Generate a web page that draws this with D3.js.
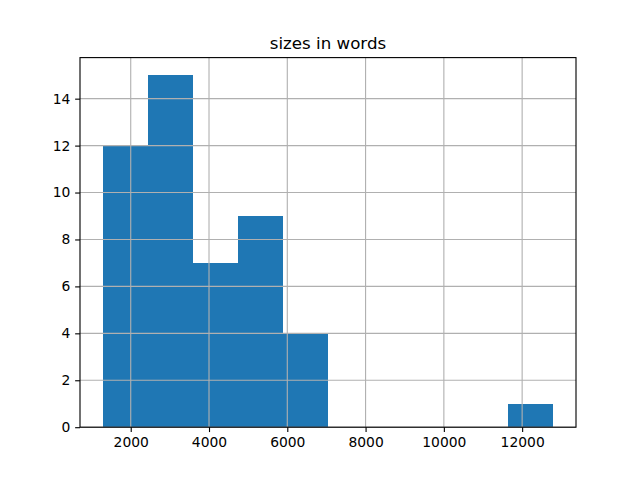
<!DOCTYPE html>
<html>
<head>
<meta charset="utf-8">
<script src="https://cdn.jsdelivr.net/npm/d3@7"></script>
<style>
  body { margin: 0; background: #fff; }
  svg { display: block; font-family: "DejaVu Sans", sans-serif; }
</style>
</head>
<body>
<div id="chart"></div>
<script>
// histogram of document sizes, 10 bins
const title = "sizes in words";
const binMin = 1280;
const binMax = 12800;
const counts = [12, 15, 7, 9, 4, 0, 0, 0, 0, 1];
const xTicks = [2000, 4000, 6000, 8000, 10000, 12000];
const yTicks = [0, 2, 4, 6, 8, 10, 12, 14];

const width = 640, height = 480;
const margin = { top: 57.6, right: 64, bottom: 52.8, left: 80 };
const pt = 100 / 72;

const svg = d3.select("#chart").append("svg")
    .attr("width", width)
    .attr("height", height);

const step = (binMax - binMin) / counts.length;
const bins = counts.map((c, i) => ({ x0: binMin + i * step, x1: binMin + (i + 1) * step, count: c }));

const pad = (binMax - binMin) * 0.05;
const x = d3.scaleLinear()
    .domain([binMin - pad, binMax + pad])
    .range([margin.left, width - margin.right]);
const yMax = d3.max(counts) * 1.05;
const y = d3.scaleLinear()
    .domain([0, yMax])
    .range([height - margin.bottom, margin.top]);

// bars
svg.append("g")
    .attr("shape-rendering", "crispEdges")
    .selectAll("rect")
    .data(bins.filter(d => d.count > 0))
    .join("rect")
    .attr("x", d => x(d.x0))
    .attr("width", d => x(d.x1) - x(d.x0))
    .attr("y", d => y(d.count))
    .attr("height", d => y(0) - y(d.count))
    .attr("fill", "#1f77b4");

// grid over bars
const grid = svg.append("g")
    .attr("stroke", "#b0b0b0")
    .attr("stroke-width", 0.8 * pt);
grid.selectAll(".gx").data(xTicks).join("line")
    .attr("x1", d => x(d)).attr("x2", d => x(d))
    .attr("y1", margin.top).attr("y2", height - margin.bottom);
grid.selectAll(".gy").data(yTicks).join("line")
    .attr("y1", d => y(d)).attr("y2", d => y(d))
    .attr("x1", margin.left).attr("x2", width - margin.right);

const xAxis = svg.append("g")
    .attr("transform", `translate(0,${height - margin.bottom})`)
    .call(d3.axisBottom(x).tickValues(xTicks).tickFormat(d3.format("d"))
        .tickSizeInner(3.5 * pt).tickSizeOuter(0).tickPadding(3.5 * pt));
const yAxis = svg.append("g")
    .attr("transform", `translate(${margin.left},0)`)
    .call(d3.axisLeft(y).tickValues(yTicks)
        .tickSizeInner(3.5 * pt).tickSizeOuter(0).tickPadding(3.5 * pt));

[xAxis, yAxis].forEach(g => {
    g.select(".domain").remove();
    g.selectAll("line").attr("stroke", "#000").attr("stroke-width", 0.8 * pt);
    g.selectAll("text")
        .attr("fill", "#000")
        .style("font-family", "DejaVu Sans")
        .style("font-size", (10 * pt) + "px");
});

// frame
svg.append("rect")
    .attr("x", margin.left)
    .attr("y", margin.top)
    .attr("width", width - margin.left - margin.right)
    .attr("height", height - margin.top - margin.bottom)
    .attr("fill", "none")
    .attr("stroke", "#000")
    .attr("stroke-width", 0.8 * pt);

svg.append("text")
    .attr("x", (margin.left + width - margin.right) / 2)
    .attr("y", margin.top - 6 * pt)
    .attr("text-anchor", "middle")
    .style("font-size", (12 * pt) + "px")
    .text(title);
</script>
</body>
</html>
